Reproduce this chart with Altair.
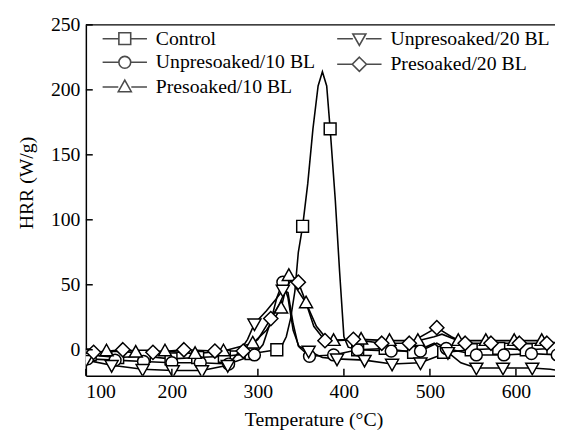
import altair as alt
import pandas as pd

series_names = ["Control", "Unpresoaked/10 BL", "Presoaked/10 BL",
                "Unpresoaked/20 BL", "Presoaked/20 BL"]

# ---- Control (squares)
ctrl_mx = [105, 137, 168, 199, 230, 261, 292, 322, 352, 384, 416, 448, 481, 516, 548, 580, 612, 643]
ctrl_my = [-4, -6, -5, -7, -6, -5, -3, 0, 95, 170, 0, 1, -2, -2, 0, 1, 0, 1]
ctrl_lx = [327, 333, 338, 343, 347, 358, 364, 370, 375, 380, 390, 395, 400, 405, 505]
ctrl_ly = [2, 10, 24, 45, 75, 128, 170, 203, 214, 203, 115, 60, 10, 2, 5]

# ---- Unpresoaked/10 BL (circles)
u10_mx = [102, 134, 167, 200, 233, 266, 296, 329, 360, 388, 416, 455, 489, 519, 554, 586, 618, 648]
u10_my = [-7, -8, -9, -10, -10, -11, -4, 52, -5, -4, 0, -1, -1, 1, -4, -4, -3, -4]
u10_lx = [306, 315, 322, 335, 341, 348, 508]
u10_ly = [4, 22, 40, 40, 15, 2, 5]

# ---- Presoaked/10 BL (triangles up)
p10_mx = [124, 158, 192, 227, 260, 294, 327, 336, 356, 388, 420, 453, 486, 533, 565, 598, 630]
p10_my = [-1, -2, -1, -3, -1, 5, 32, 57, 36, 7, 8, 7, 7, 7, 7, 7, 7]
p10_lx = [310, 345, 368, 378, 505, 514]
p10_ly = [15, 47, 18, 10, 10, 12]

# ---- Unpresoaked/20 BL (triangles down)
u20_mx = [100, 130, 166, 201, 235, 265, 296, 329, 359, 392, 424, 456, 489, 521, 554, 585, 619]
u20_my = [-8, -12, -15, -16, -16, -12, 20, 46, -1, -7, -8, -11, -10, -2, -14, -14, -14]
u20_lx = [280, 288, 310, 320, 335, 341, 347, 375, 505, 536, 600, 640, 650]
u20_ly = [0, 8, 30, 38, 44, 20, 3, -6, -6, -10, -14, -15, -16]

# ---- Presoaked/20 BL (diamonds)
p20_mx = [109, 143, 178, 214, 250, 283, 315, 347, 378, 411, 444, 476, 508, 541, 571, 604, 636]
p20_my = [-2, 0, -2, 0, -1, -1, 24, 52, 7, 8, 5, 5, 17, 5, 5, 5, 5]
p20_lx = [300, 325, 335, 341, 355, 365, 525]
p20_ly = [8, 35, 50, 56, 38, 18, 10]

x_ticks = [100, 200, 300, 400, 500, 600]
y_ticks = [0, 50, 100, 150, 200, 250]

marker_paths = [
    "M-1,-1H1V1H-1Z",
    "M-1,0A1,1,0,1,1,1,0A1,1,0,1,1,-1,0Z",
    "M0,-1.15L1.1,0.8H-1.1Z",
    "M0,1.15L1.1,-0.8H-1.1Z",
    "M0,-1.2L1.2,0L0,1.2L-1.2,0Z",
]
legend_paths = ["M-3.75,0L-1.1,0M1.1,0L3.75,0" + p for p in marker_paths]

all_sets = [
    (ctrl_mx, ctrl_my, ctrl_lx, ctrl_ly),
    (u10_mx, u10_my, u10_lx, u10_ly),
    (p10_mx, p10_my, p10_lx, p10_ly),
    (u20_mx, u20_my, u20_lx, u20_ly),
    (p20_mx, p20_my, p20_lx, p20_ly),
]
rows_m, rows_l = [], []
for name, (mx, my, lx, ly) in zip(series_names, all_sets):
    for a, b in zip(mx, my):
        rows_m.append({"series": name, "x": a, "y": b})
        rows_l.append({"series": name, "x": a, "y": b})
    for a, b in zip(lx, ly):
        rows_l.append({"series": name, "x": a, "y": b})
df_m = pd.DataFrame(rows_m)
df_l = pd.DataFrame(rows_l).sort_values(["series", "x"])

FONT = "Liberation Serif"
W, H = 480, 356

xscale = alt.Scale(domain=[100, 650], nice=False, zero=False)
yscale = alt.Scale(domain=[-20, 250], nice=False, zero=False)
xaxis = alt.Axis(values=x_ticks, ticks=False, grid=False, labelPadding=6,
                 title="Temperature (°C)", titleX=231, titleY=51,
                 titleBaseline="alphabetic")
yaxis = alt.Axis(values=y_ticks, ticks=False, grid=False, labelPadding=6,
                 title="HRR (W/g)", titleX=-54, titleY=160,
                 titleBaseline="alphabetic")
X = alt.X("x:Q", scale=xscale, axis=xaxis)
Y = alt.Y("y:Q", scale=yscale, axis=yaxis)

lines = alt.Chart(df_l).mark_line(color="black", strokeWidth=1.6, clip=True).encode(
    x=X, y=Y, detail="series:N", order="x:Q")

markers = alt.Chart(df_m).mark_point(filled=True, fill="white", stroke="black",
                                     strokeWidth=1.5, size=144, opacity=1, clip=True).encode(
    x=X, y=Y,
    shape=alt.Shape("series:N", scale=alt.Scale(domain=series_names, range=marker_paths),
                    legend=None))


def legend_layer(names, shapes, lx, ly):
    # legend-only layer: its own marks sit outside the clipped plot area
    return alt.Chart(df_m).transform_filter(
        alt.FieldOneOfPredicate(field="series", oneOf=names)
    ).transform_calculate(yoff="datum.y - 1000").mark_point(
        filled=False, color="black", size=144, clip=True
    ).encode(
        x=X, y=alt.Y("yoff:Q", scale=yscale, axis=yaxis),
        shape=alt.Shape("series:N", scale=alt.Scale(domain=names, range=shapes),
                        legend=alt.Legend(orient="none", legendX=lx, legendY=ly, title=None,
                                          labelFont=FONT, labelFontSize=20, labelColor="black",
                                          labelLimit=400, symbolSize=144, symbolStrokeWidth=1.6,
                                          symbolStrokeColor="black",
                                          labelOffset=21.5, rowPadding=4,
                                          padding=0)))


leg1 = legend_layer(series_names[:3], legend_paths[:3], 29.5, 4)
leg2 = legend_layer(series_names[3:], legend_paths[3:], 267.5, 4)

xt = alt.Chart(pd.DataFrame({"t": x_ticks})).mark_rule(color="black", strokeWidth=1.5).encode(
    x=alt.X("t:Q", scale=xscale, axis=xaxis), y=alt.value(H), y2=alt.value(H - 7))
yt = alt.Chart(pd.DataFrame({"t": y_ticks})).mark_rule(color="black", strokeWidth=1.5).encode(
    y=alt.Y("t:Q", scale=yscale, axis=yaxis), x=alt.value(0), x2=alt.value(7))
top = alt.Chart(pd.DataFrame({"t": [0]})).mark_rule(color="black", strokeWidth=1.5).encode(
    x=alt.value(0), x2=alt.value(W), y=alt.value(0))

chart = alt.layer(lines, markers, leg1, leg2, xt, yt, top).resolve_scale(
    shape="independent"
).properties(
    width=W, height=H,
    background="white",
    autosize=alt.AutoSizeParams(type="none"),
    padding={"left": 79, "top": 14, "right": -4, "bottom": 56},
).configure_view(stroke=None).configure_axis(
    labelFont=FONT, labelFontSize=20, labelColor="black",
    titleFont=FONT, titleFontSize=20, titleFontWeight="normal", titleColor="black",
    domainColor="black", domainWidth=1.5,
)

chart.save("out.html", embed_options={"renderer": "svg", "actions": False})
